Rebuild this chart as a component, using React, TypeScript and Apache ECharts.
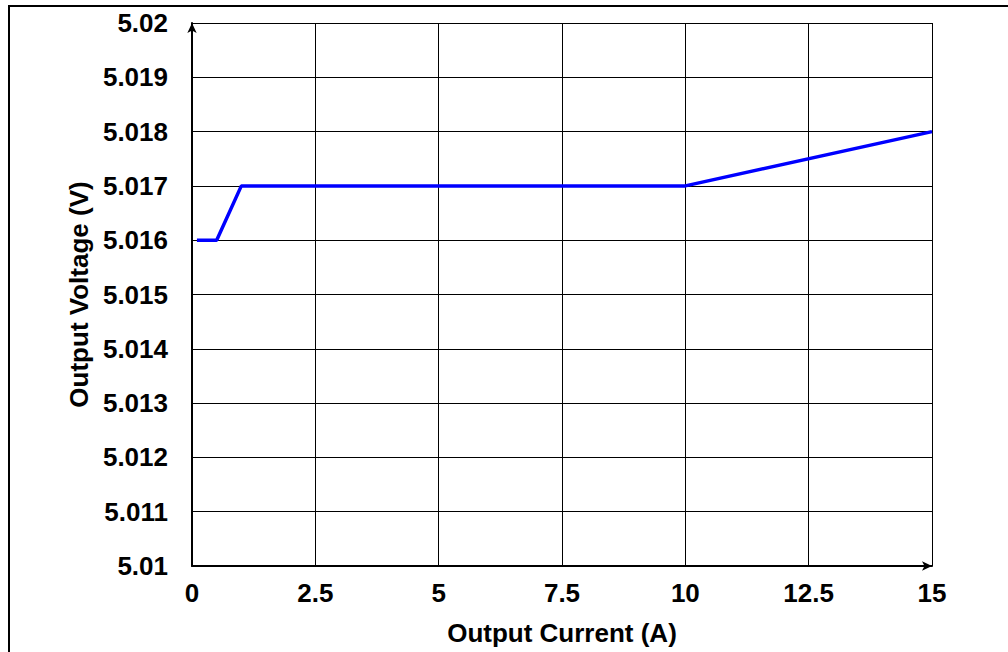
import React, { useEffect, useRef } from "react";
import * as echarts from "echarts";

// Output current (A) vs. output voltage (V)
const currentA = [0.1, 0.5, 1, 10, 15];
const voltageV = [5.016, 5.016, 5.017, 5.017, 5.018];

const xTicks = { min: 0, max: 15, interval: 2.5 };
const yTicks = { min: 5.01, max: 5.02, interval: 0.001 };

const xTitle = "Output Current (A)";
const yTitle = "Output Voltage (V)";

const FONT = "'Liberation Sans', Arial, sans-serif";
const FS = 26;

export default function App() {
  const ref = useRef<HTMLDivElement>(null);

  useEffect(() => {
    if (!ref.current) return;
    const chart = echarts.init(ref.current, null, { renderer: "svg" });
    const points = currentA.map((x, i) => [x, voltageV[i]]);

    chart.setOption({
      animation: false,
      backgroundColor: "#ffffff",
      textStyle: { fontFamily: FONT },
      grid: { left: 192, top: 23, right: 76, bottom: 86, containLabel: false },
      xAxis: {
        type: "value",
        min: xTicks.min,
        max: xTicks.max,
        interval: xTicks.interval,
        name: xTitle,
        nameLocation: "middle",
        nameGap: 54,
        nameTextStyle: { fontFamily: FONT, fontWeight: "bold", fontSize: FS, color: "#000" },
        axisLine: {
          show: true,
          symbol: ["none", "arrow"],
          symbolSize: [7, 10],
          lineStyle: { color: "#000", width: 2 },
        },
        axisTick: { show: false },
        axisLabel: {
          margin: 14,
          fontFamily: FONT,
          fontWeight: "bold",
          fontSize: FS,
          color: "#000",
          formatter: (v: number) => String(parseFloat(v.toFixed(2))),
        },
        splitLine: { show: true, lineStyle: { color: "#000", width: 1 } },
      },
      yAxis: {
        type: "value",
        min: yTicks.min,
        max: yTicks.max,
        interval: yTicks.interval,
        name: yTitle,
        nameLocation: "middle",
        nameRotate: 90,
        nameGap: 91,
        nameTextStyle: { fontFamily: FONT, fontWeight: "bold", fontSize: FS, color: "#000" },
        axisLine: {
          show: true,
          symbol: ["none", "arrow"],
          symbolSize: [7, 10],
          lineStyle: { color: "#000", width: 2 },
        },
        axisTick: { show: false },
        axisLabel: {
          margin: 24,
          fontFamily: FONT,
          fontWeight: "bold",
          fontSize: FS,
          color: "#000",
          formatter: (v: number) => String(parseFloat(v.toFixed(3))),
        },
        splitLine: { show: true, lineStyle: { color: "#000", width: 1 } },
      },
      graphic: [
        {
          type: "line",
          shape: { x1: 9, y1: 6, x2: 9, y2: 652 },
          style: { stroke: "#000", lineWidth: 2 },
          silent: true,
        },
        {
          type: "line",
          shape: { x1: 8, y1: 6, x2: 1008, y2: 6 },
          style: { stroke: "#000", lineWidth: 2 },
          silent: true,
        },
      ],
      series: [
        {
          type: "line",
          data: points,
          showSymbol: false,
          symbol: "none",
          lineStyle: { color: "#0000ff", width: 3.5 },
          itemStyle: { color: "#0000ff" },
          z: 5,
        },
      ],
    });

    return () => chart.dispose();
  }, []);

  return (
    <div
      ref={ref}
      style={{ position: "absolute", left: 0, top: 0, width: 1008, height: 652 }}
    />
  );
}
